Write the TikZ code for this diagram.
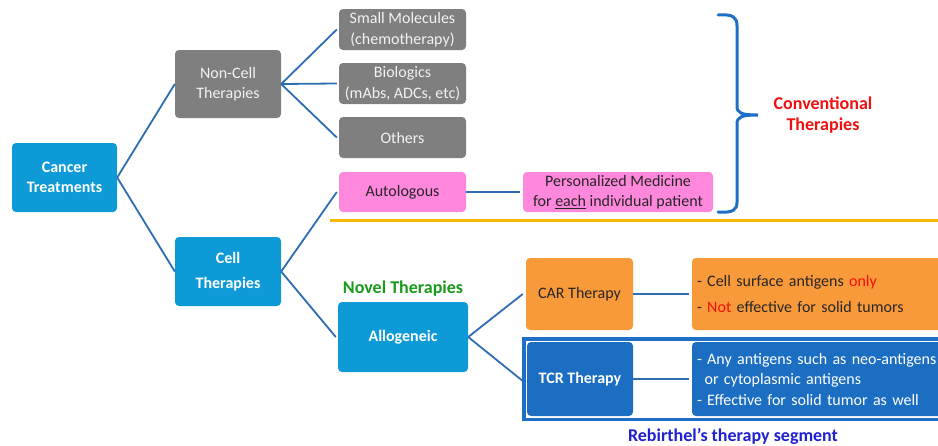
\documentclass[tikz,border=0pt]{standalone}
\usepackage{fontspec}
\setmainfont{Carlito}
\definecolor{cyanbox}{HTML}{0E9AD7}
\definecolor{graybox}{HTML}{7F7F7F}
\definecolor{pinkbox}{HTML}{FF88DD}
\definecolor{orangebox}{HTML}{F89A3A}
\definecolor{tcrblue}{HTML}{1B6EC2}
\definecolor{lineblue}{HTML}{2E6DB4}
\definecolor{bracecol}{HTML}{1F6FC7}
\definecolor{goldline}{HTML}{F7B800}
\definecolor{convred}{HTML}{F01010}
\definecolor{novelgreen}{HTML}{1A9A1A}
\definecolor{rebblue}{HTML}{2020D0}
\begin{document}
\begin{tikzpicture}[x=1pt,y=-1pt,
  basebox/.style={rounded corners=4pt, inner sep=0pt, align=center,
    font=\fontsize{16}{20.5}\selectfont},
  cyanstyle/.style={basebox, fill=cyanbox, text=white, font=\fontsize{16}{20.5}\selectfont\bfseries},
  graystyle/.style={basebox, fill=graybox, text=white!95!black},
  pinkstyle/.style={basebox, fill=pinkbox, text=black!85},
  orangestyle/.style={basebox, fill=orangebox, text=black!85},
  tcrstyle/.style={basebox, fill=tcrblue, text=white},
  descstyle/.style={basebox, align=left, inner xsep=5pt, text width=248pt},
  conn/.style={draw=lineblue, line width=1.8pt},
  labelstyle/.style={align=center, inner sep=0pt, font=\fontsize{18}{21}\selectfont\bfseries}
]
\useasboundingbox (0,0) rectangle (938,445);
\clip (0,0) rectangle (938,445);

% level 1
\node[cyanstyle, minimum width=105pt, minimum height=69pt] (ct) at (64.5,177.5) {Cancer\\Treatments};
% level 2
\node[graystyle, minimum width=106pt, minimum height=68pt] (nc) at (228,84) {Non-Cell\\Therapies};
\node[cyanstyle, minimum width=106pt, minimum height=69pt] (cell) at (228,271.5) {Cell\\[5pt]Therapies};
% level 3
\node[graystyle, minimum width=127pt, minimum height=41pt] (sm) at (402.5,29.5) {Small Molecules\\(chemotherapy)};
\node[graystyle, minimum width=127pt, minimum height=41pt] (bio) at (402.5,83.5) {Biologics\\(mAbs, ADCs, etc)};
\node[graystyle, minimum width=127pt, minimum height=41pt] (oth) at (402.5,137.5) {Others};
\node[pinkstyle, minimum width=127pt, minimum height=40pt] (auto) at (402.5,192) {Autologous};
\node[pinkstyle, minimum width=190pt, minimum height=40pt] (pers) at (618,192) {Personalized Medicine\\for \underline{each} individual patient};
\node[cyanstyle, minimum width=130pt, minimum height=70pt] (allo) at (403,337) {Allogeneic};
% level 4
\node[orangestyle, minimum width=107pt, minimum height=72pt] (car) at (579.5,294) {CAR Therapy};
\node[tcrstyle, minimum width=106pt, minimum height=74pt, font=\fontsize{16}{20}\selectfont\bfseries] (tcr) at (580,379) {TCR Therapy};
\node[descstyle, fill=orangebox, text=black!85, minimum height=72pt] (cardesc) at (821,294)
  {- Cell surface antigens \textcolor{convred}{only}\\[5pt]- \textcolor{convred}{Not} effective for solid tumors};
\node[descstyle, fill=tcrblue, text=white, minimum height=74pt] (tcrdesc) at (821,379)
  {- Any antigens such as neo-antigens\\\hphantom{-\,}or cytoplasmic antigens\\- Effective for solid tumor as well};

% Rebirthel frame
\draw[bracecol, line width=3.5pt] (524,339) rectangle (960,419.5);

% labels
\node[labelstyle, text=convred] (conv) at (823,115.5) {Conventional\\Therapies};
\node[labelstyle, text=novelgreen] (novel) at (403,289) {Novel Therapies};
\node[labelstyle, text=rebblue] (reb) at (733,436) {Rebirthel’s therapy segment};

% connectors
\draw[conn] (ct.east) -- (nc.west);
\draw[conn] (ct.east) -- (cell.west);
\draw[conn] (nc.east) -- ([xshift=-2pt]sm.west);
\draw[conn] (nc.east) -- ([xshift=-2pt]bio.west);
\draw[conn] (nc.east) -- ([xshift=-2pt]oth.west);
\draw[conn] (cell.east) -- ([xshift=-2pt]auto.west);
\draw[conn] (cell.east) -- ([xshift=-2pt]allo.west);
\draw[conn] (auto.east) -- ([xshift=-3pt]pers.west);
\draw[conn] (allo.east) -- ([xshift=-3pt]car.west);
\draw[conn] (allo.east) -- ([xshift=-4pt,yshift=-2pt]tcr.west);
\draw[conn] (car.east) -- ([xshift=-3pt]cardesc.west);
\draw[conn] (tcr.east) -- ([xshift=-3pt]tcrdesc.west);

% gold separator
\coordinate (sepL) at (330,220.5);
\coordinate (sepR) at (938,220.5);
\draw[goldline, line width=3pt] (sepL) -- (sepR);

% brace
\draw[bracecol, line width=3pt, line cap=round]
  (718,15) .. controls (733,14) and (737,17) .. (737,26) -- (737,106)
  .. controls (737,113) and (741,115) .. (758,115)
  .. controls (741,115) and (737,117) .. (737,124) -- (737,202)
  .. controls (737,210) and (733,213) .. (718,212);
\end{tikzpicture}
\end{document}
